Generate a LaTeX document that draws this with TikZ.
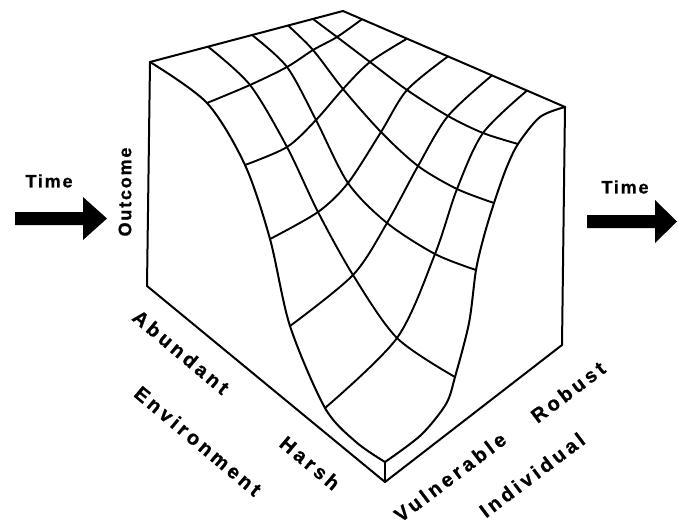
\documentclass[tikz,border=0pt]{standalone}
\usepackage{fontspec}
\newfontfamily\lblfont[LetterSpace=18,BoldFeatures={FakeBold=0.8}]{Liberation Sans}
\newfontfamily\smallfont[LetterSpace=10,BoldFeatures={FakeBold=0.8}]{Liberation Sans}
\begin{document}
\begin{tikzpicture}[x=1pt,y=-1pt,line join=round,line cap=round,
  edge/.style={line width=2pt},
  mesh/.style={line width=1.9pt},
  axislabel/.style={font=\lblfont\bfseries\fontsize{20}{24}\selectfont,inner sep=0pt},
  timelabel/.style={font=\smallfont\bfseries\fontsize{18}{22}\selectfont,inner sep=0pt}]
\useasboundingbox (0,0) rectangle (679,527);

% surface grid: m-i-j, i = environment (abundant..harsh), j = individual (vulnerable..robust)
\foreach \i/\pts in {
  0/{150/62,208/46.7,252/35,288/25.5,313/19,343/11},
  1/{207/103,250/85,287/67,313/50,337/37,362/19.2},
  2/{245/165,287/147,316/120,343/89,370/62,407/38.7},
  3/{270/239,318/212,348/183,381/132,407/90,448/56.4},
  4/{290/326,353/275,387/223,418/166,448/116,492/75.4},
  5/{325/408,397/338,435/254,457/189,483/133,527/90.6},
  6/{385/462,455/377,476/270,494/203,518/144,565/107}}{
  \foreach \x/\y [count=\j from 0] in \pts {\coordinate (m-\i-\j) at (\x,\y);}
}

% extra support points on the two profile curves
\coordinate (lc1) at (356,442);
\coordinate (rc1) at (421,435);
\coordinate (rc2) at (446,404);
\coordinate (rc3) at (469,323);
\coordinate (rc4) at (484,236);
\coordinate (rc5) at (506,169);
\coordinate (rc6) at (540,117);

% block corners
\coordinate (bl) at (147,286);
\coordinate (bf) at (385,482);
\coordinate (br) at (562,345);

% box edges
\draw[edge] (m-0-0) -- (bl) -- (bf) -- (br) -- (m-6-5);
\draw[edge] (bf) -- (m-6-0);
\draw[edge] (m-0-0) -- (m-0-5) -- (m-6-5);

% profile curves of the two front faces
\draw[edge] plot[smooth] coordinates {(m-0-0) (m-1-0) (m-2-0) (m-3-0) (m-4-0) (m-5-0) (lc1) (m-6-0)};
\draw[edge] plot[smooth] coordinates {(m-6-0) (rc1) (rc2) (m-6-1) (rc3) (m-6-2) (rc4) (m-6-3) (rc5) (m-6-4) (rc6) (m-6-5)};

% interior mesh
\foreach \i in {1,...,5}
  \draw[mesh] plot[smooth] coordinates {(m-\i-0) (m-\i-1) (m-\i-2) (m-\i-3) (m-\i-4) (m-\i-5)};
\foreach \j in {1,...,4}
  \draw[mesh] plot[smooth] coordinates {(m-0-\j) (m-1-\j) (m-2-\j) (m-3-\j) (m-4-\j) (m-5-\j) (m-6-\j)};

% time arrows
\coordinate (arrL) at (15,218.5);
\coordinate (arrR) at (587,221.5);
\fill (arrL) ++(0,-6.5) -- ++(68,0) -- ++(0,-15) -- ++(24,21.5) -- ++(-24,21.5) -- ++(0,-15) -- ++(-68,0) -- cycle;
\fill (arrR) ++(0,-6.5) -- ++(68,0) -- ++(0,-15) -- ++(22,21.5) -- ++(-22,21.5) -- ++(0,-15) -- ++(-68,0) -- cycle;
\node[timelabel] (timeL) at (49,181) {Time};
\node[timelabel] (timeR) at (625,187) {Time};

% axis labels
\node[timelabel,rotate=90] (outcome) at (125,192) {Outcome};
\node[axislabel,rotate=-40] (abund) at (181,352) {Abundant};
\node[axislabel,rotate=-40] (env) at (198,441) {Environment};
\node[axislabel,rotate=-40] (harsh) at (310,463) {Harsh};
\node[axislabel,rotate=37] (vuln) at (450,477) {Vulnerable};
\node[axislabel,rotate=37] (robust) at (568,392) {Robust};
\node[axislabel,rotate=37] (indiv) at (532,475) {Individual};
\end{tikzpicture}
\end{document}
